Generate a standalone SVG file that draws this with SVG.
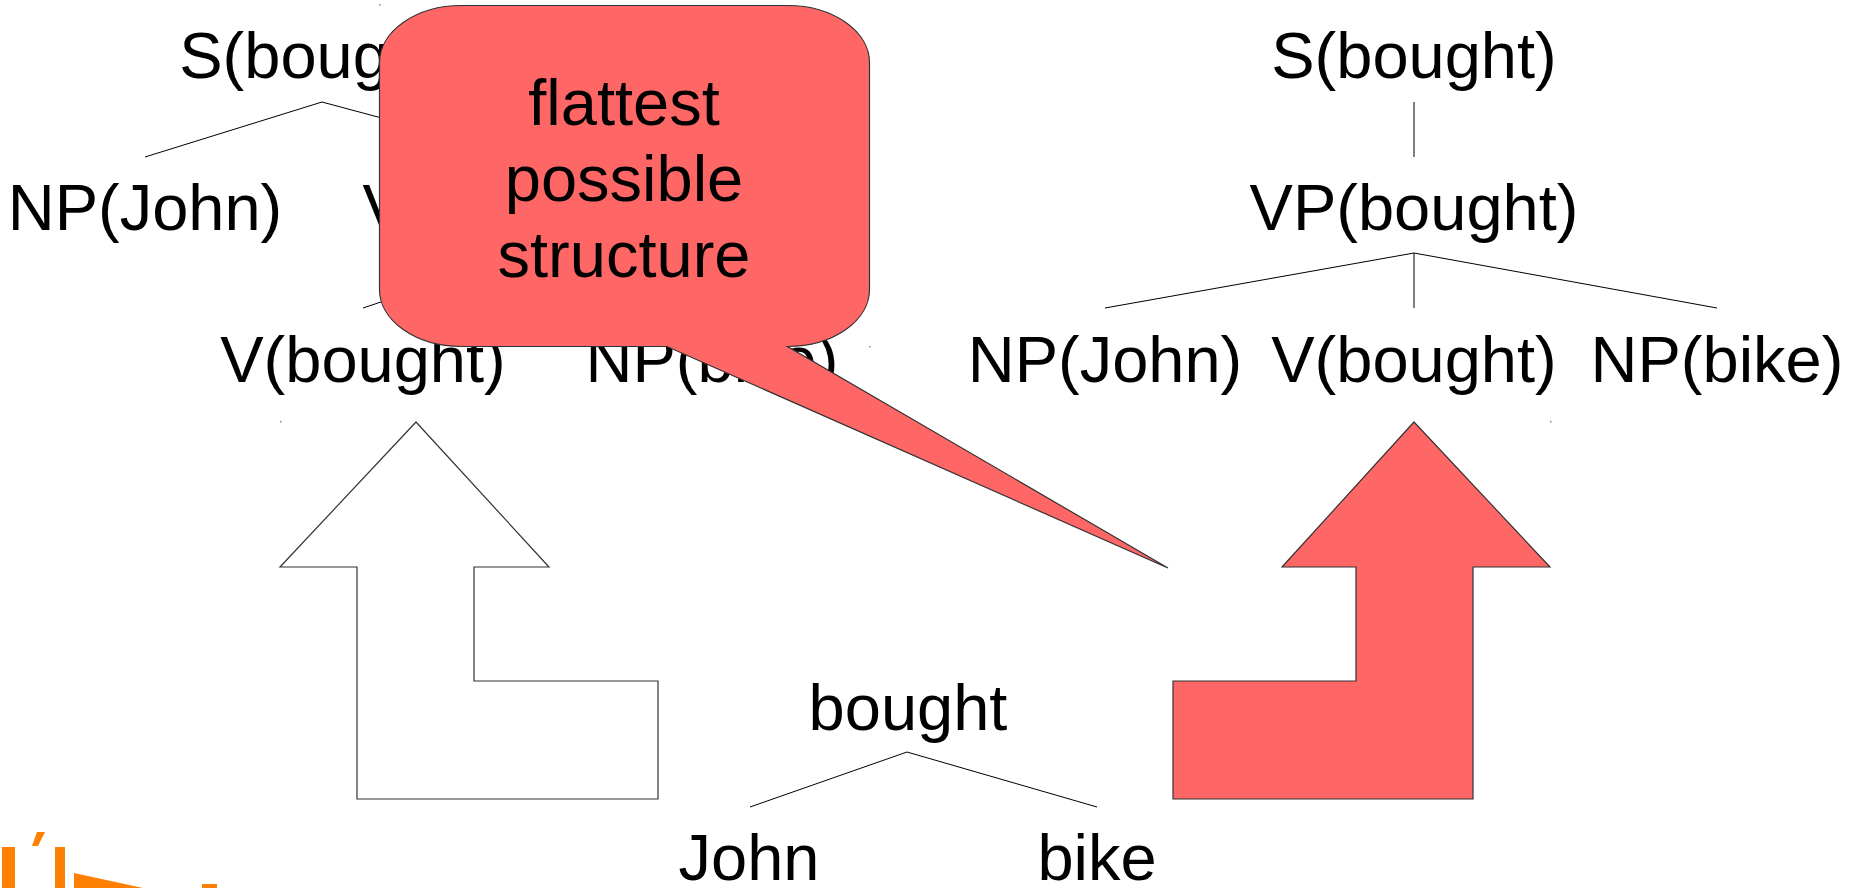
<svg xmlns="http://www.w3.org/2000/svg" width="1858" height="888" viewBox="0 0 1858 888">
  <style>
    .lbl { font-family: "Liberation Sans", Arial, sans-serif; font-size: 65px; fill: #000; text-anchor: middle; }
    .edge { stroke: #000; stroke-width: 1; fill: none; }
    .arrow { stroke: #333; stroke-width: 1.2; stroke-linejoin: miter; }
    .speck { fill: #888; }
    .logo { fill: #ff7f00; }
  </style>
  <rect width="1858" height="888" fill="#fff"/>

  <!-- tree edges -->
  <g id="connectors">
    <!-- left tree -->
    <line class="edge" x1="322" y1="102" x2="145" y2="157"/>
    <line class="edge" x1="322" y1="102" x2="527" y2="157"/>
    <line class="edge" x1="527" y1="253" x2="363" y2="308"/>
    <line class="edge" x1="527" y1="253" x2="712" y2="308"/>
    <!-- right tree -->
    <line class="edge" x1="1414" y1="102" x2="1414" y2="157"/>
    <line class="edge" x1="1414" y1="253" x2="1105" y2="308"/>
    <line class="edge" x1="1414" y1="253" x2="1414" y2="308"/>
    <line class="edge" x1="1414" y1="253" x2="1717" y2="308"/>
    <!-- dependency tree -->
    <line class="edge" x1="907" y1="752" x2="750" y2="807"/>
    <line class="edge" x1="907" y1="752" x2="1097" y2="807"/>
  </g>

  <!-- left tree nodes -->
  <g id="left-S"><text class="lbl" x="322" y="78">S(bought)</text></g>
  <g id="left-NP-John"><text class="lbl" x="145" y="230">NP(John)</text></g>
  <g id="left-VP"><text class="lbl" x="527" y="230">VP(bought)</text></g>
  <g id="left-V"><text class="lbl" x="363" y="382">V(bought)</text></g>
  <g id="left-NP-bike"><text class="lbl" x="712" y="382">NP(bike)</text></g>

  <!-- right (flat) tree nodes -->
  <g id="right-S"><text class="lbl" x="1414" y="78">S(bought)</text></g>
  <g id="right-VP"><text class="lbl" x="1414" y="230">VP(bought)</text></g>
  <g id="right-NP-John"><text class="lbl" x="1105" y="382">NP(John)</text></g>
  <g id="right-V"><text class="lbl" x="1414" y="382">V(bought)</text></g>
  <g id="right-NP-bike"><text class="lbl" x="1717" y="382">NP(bike)</text></g>

  <!-- dependency tree nodes -->
  <g id="dep-bought"><text class="lbl" x="908" y="730">bought</text></g>
  <g id="dep-John"><text class="lbl" x="749" y="880">John</text></g>
  <g id="dep-bike"><text class="lbl" x="1097" y="880">bike</text></g>

  <!-- bent arrows -->
  <g id="arrow-left">
    <polygon class="arrow" fill="#fff" points="416,422 549,567 474,567 474,681 658,681 658,799 357,799 357,567 280,567"/>
  </g>
  <g id="arrow-right">
    <polygon class="arrow" fill="#ff6666" points="1414,422 1550,567 1473,567 1473,799 1173,799 1173,681 1356,681 1356,567 1282,567"/>
  </g>

  <!-- callout bubble -->
  <g id="callout">
    <path fill="#ff6666" stroke="#333" stroke-width="1.2" stroke-linejoin="miter"
      d="M 461.5,5.5 H 787.5 A 82,57 0 0 1 869.5,62.5 V 289.5 A 82,57 0 0 1 787.5,346.5 L 1168,568 L 667,346.5 H 461.5 A 82,57 0 0 1 379.5,289.5 V 62.5 A 82,57 0 0 1 461.5,5.5 Z"/>
    <text class="lbl" x="624" y="125">flattest</text>
    <text class="lbl" x="624" y="201">possible</text>
    <text class="lbl" x="624" y="277">structure</text>
  </g>

  <!-- frame corner specks -->
  <rect class="speck" x="379" y="4" width="1.5" height="1.5"/>
  <rect class="speck" x="869" y="346" width="1.5" height="1.5"/>
  <rect class="speck" x="280" y="421" width="1.5" height="1.5"/>
  <rect class="speck" x="1550" y="421" width="1.5" height="1.5"/>

  <!-- orange logo fragment at the lower edge -->
  <g id="logo">
    <rect class="logo" x="2" y="847" width="13" height="41"/>
    <polygon class="logo" points="37,832 45,832 38,846 32,846"/>
    <rect class="logo" x="55" y="847" width="10" height="41"/>
    <polygon class="logo" points="74,873 143,888 74,888"/>
    <rect class="logo" x="202" y="884" width="15" height="4"/>
  </g>
</svg>
